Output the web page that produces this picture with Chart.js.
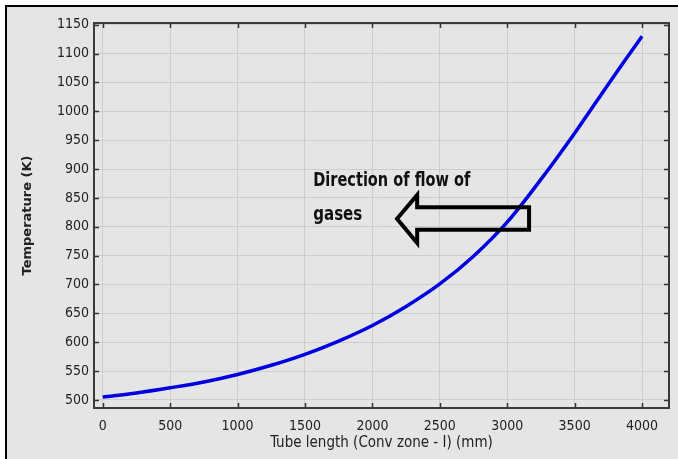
<!DOCTYPE html>
<html>
<head>
<meta charset="utf-8">
<script src="https://cdn.jsdelivr.net/npm/chart.js@4"></script>
<style>
html,body{margin:0;padding:0;background:#fff;}
canvas{display:block;}
</style>
</head>
<body>
<canvas id="c" width="678" height="459"></canvas>
<script>
// Data
const tubeLength = [0, 250, 500, 750, 1000, 1250, 1500, 1750, 2000, 2250, 2500, 2750, 3000, 3250, 3500, 3750, 3875, 4000];
const temperature = [505, 512, 521, 531, 544, 560, 579, 602, 629, 662, 701, 749, 808, 882, 962, 1047, 1089, 1130];
const xTicks = [0, 500, 1000, 1500, 2000, 2500, 3000, 3500, 4000];
const xTickLabels = ['0', '500', '1000', '1500', '2000', '2500', '3000', '3500', '4000'];
const yTicks = [500, 550, 600, 650, 700, 750, 800, 850, 900, 950, 1000, 1050, 1100, 1150];
const yTickLabels = ['500', '550', '600', '650', '700', '750', '800', '850', '900', '950', '1000', '1050', '1100', '1150'];
const xTitle = 'Tube length (Conv zone - I) (mm)';
const yTitle = 'Temperature (K)';
const noteLines = ['Direction of flow of', 'gases'];
// annotation anchors in data units
const noteAnchor = {x: 1561, y: 871, lineStep: 59};
const arrowTip = {x: 2183, y: 814};
const arrowHeadBack = 2332, arrowTail = 3162;
const arrowHeadTop = 855, arrowHeadBottom = 772;
const shaftTop = 834, shaftBottom = 795;

const BG = '#e5e5e5';
const tickFont = {family: "'DejaVu Sans Condensed', 'DejaVu Sans', sans-serif", size: 14};

const frame = {
  id: 'frame',
  beforeDraw(chart) {
    const ctx = chart.ctx;
    ctx.save();
    ctx.fillStyle = '#ffffff';
    ctx.fillRect(0, 0, chart.width, chart.height);
    ctx.fillStyle = BG;
    ctx.fillRect(5, 5, chart.width, chart.height);
    ctx.fillStyle = '#000';
    ctx.fillRect(5, 5, chart.width, 2);
    ctx.fillRect(5, 5, 2, chart.height);
    ctx.restore();
  },
  afterDatasetsDraw(chart) {
    const ctx = chart.ctx;
    const xs = chart.scales.x, ys = chart.scales.y;
    const a = chart.chartArea;
    ctx.save();
    // inward ticks on all four sides
    ctx.strokeStyle = '#333';
    ctx.lineWidth = 1.5;
    ctx.beginPath();
    xTicks.forEach(v => {
      const p = Math.round(xs.getPixelForValue(v)) + 0.5;
      ctx.moveTo(p, a.bottom); ctx.lineTo(p, a.bottom - 5);
      ctx.moveTo(p, a.top); ctx.lineTo(p, a.top + 5);
    });
    yTicks.forEach(v => {
      const p = Math.round(ys.getPixelForValue(v)) + 0.5;
      ctx.moveTo(a.left, p); ctx.lineTo(a.left + 5, p);
      ctx.moveTo(a.right, p); ctx.lineTo(a.right - 5, p);
    });
    ctx.stroke();
    // plot frame
    ctx.strokeStyle = '#3a3a3a';
    ctx.lineWidth = 2;
    ctx.strokeRect(a.left, a.top, a.right - a.left, a.bottom - a.top);

    // annotation arrow
    const X = v => xs.getPixelForValue(v), Y = v => ys.getPixelForValue(v);
    ctx.strokeStyle = '#000';
    ctx.lineWidth = 4;
    ctx.lineJoin = 'miter';
    ctx.beginPath();
    ctx.moveTo(X(arrowTip.x), Y(arrowTip.y));
    ctx.lineTo(X(arrowHeadBack), Y(arrowHeadTop));
    ctx.lineTo(X(arrowHeadBack), Y(shaftTop));
    ctx.lineTo(X(arrowTail), Y(shaftTop));
    ctx.lineTo(X(arrowTail), Y(shaftBottom));
    ctx.lineTo(X(arrowHeadBack), Y(shaftBottom));
    ctx.lineTo(X(arrowHeadBack), Y(arrowHeadBottom));
    ctx.closePath();
    ctx.stroke();

    // annotation text
    ctx.fillStyle = '#111';
    ctx.font = "bold 19px 'Liberation Sans Narrow', 'DejaVu Sans Condensed', sans-serif";
    ctx.textBaseline = 'alphabetic';
    ctx.textAlign = 'left';
    const tx = X(noteAnchor.x), ty = Y(noteAnchor.y);
    ctx.fillText(noteLines[0], tx, ty, 157);
    ctx.fillText(noteLines[1], tx, Y(noteAnchor.y - noteAnchor.lineStep), 157 * noteLines[1].length / noteLines[0].length * 1.25);
    ctx.restore();
  }
};

new Chart(document.getElementById('c'), {
  type: 'line',
  data: {
    datasets: [{
      data: tubeLength.map((x, i) => ({x: x, y: temperature[i]})),
      borderColor: '#0000e0',
      borderWidth: 3.5,
      pointRadius: 0,
      cubicInterpolationMode: 'monotone',
      fill: false
    }]
  },
  options: {
    responsive: false,
    devicePixelRatio: 1,
    animation: false,
    layout: {padding: {left: 0, right: 9, top: 23, bottom: 0}},
    plugins: {legend: {display: false}, tooltip: {enabled: false}},
    scales: {
      x: {
        type: 'linear',
        min: -65, max: 4200,
        afterBuildTicks: s => { s.ticks = xTicks.map(v => ({value: v})); },
        afterFit: s => { s.height = 51; },
        grid: {color: '#cdcdcd', lineWidth: 1, drawTicks: false},
        border: {display: false},
        ticks: {font: tickFont, color: '#222', padding: 10, maxRotation: 0, autoSkip: false,
          callback: (v, i) => xTickLabels[i]},
        title: {display: true, text: xTitle, color: '#222',
          font: {family: "'DejaVu Sans Condensed', 'DejaVu Sans', sans-serif", size: 15},
          padding: {top: 0, bottom: 7}}
      },
      y: {
        type: 'linear',
        min: 486, max: 1153,
        afterBuildTicks: s => { s.ticks = yTicks.map(v => ({value: v})); },
        afterFit: s => { s.width = 94; },
        grid: {color: '#cdcdcd', lineWidth: 1, drawTicks: false},
        border: {display: false},
        ticks: {font: tickFont, color: '#222', padding: 5, autoSkip: false,
          callback: (v, i) => yTickLabels[i]},
        title: {display: true, text: yTitle, color: '#222',
          font: {family: "'DejaVu Sans', sans-serif", size: 13, weight: 'bold'},
          padding: {top: 20, bottom: 0}}
      }
    }
  },
  plugins: [frame]
});
</script>
</body>
</html>
